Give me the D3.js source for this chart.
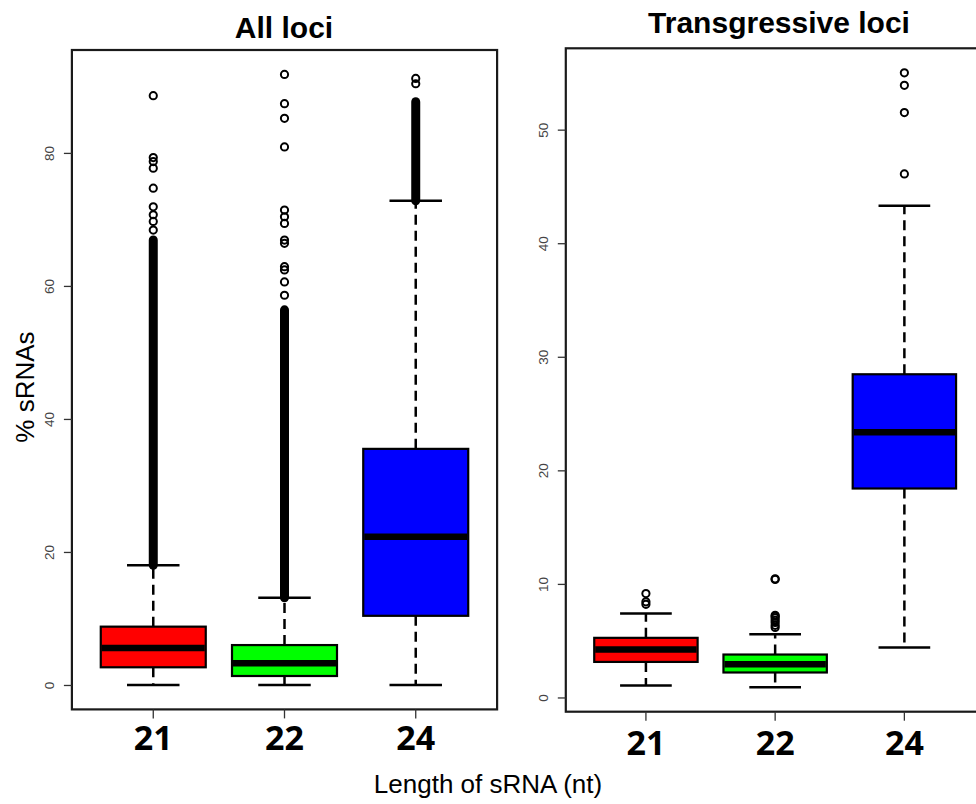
<!DOCTYPE html>
<html>
<head>
<meta charset="utf-8">
<title></title>
<script src="https://cdnjs.cloudflare.com/ajax/libs/d3/7.8.5/d3.min.js"></script>
<style>
  body { margin: 0; background: #fff; }
  text { font-family: "Liberation Sans", Arial, sans-serif; }
</style>
</head>
<body>
<script>
const width = 976;
const height = 804;

const categories = ['21', '22', '24'];
const fills = ['#ff0000', '#00ff00', '#0000ff'];

// All loci
const allLow = [0, 0, 0];
const allQ1 = [2.66, 1.35, 10.4];
const allMedian = [5.56, 3.26, 22.3];
const allQ3 = [8.77, 6.0, 35.5];
const allHigh = [18.0, 13.1, 72.8];
const allDense = [[18.0, 66.9], [13.1, 56.4], [72.8, 87.7]];
const allOutliers = [
  [68.4, 69.7, 70.7, 71.9, 74.7, 77.7, 78.7, 79.3, 88.6],
  [58.6, 60.6, 62.4, 62.9, 66.4, 66.9, 69.4, 70.4, 71.4, 80.9, 85.2, 87.4, 91.8],
  [90.4, 91.2]
];
const allTicks = [0, 20, 40, 60, 80];

// Transgressive loci
const trLow = [1.06, 0.91, 4.4];
const trQ1 = [3.13, 2.2, 18.4];
const trMedian = [4.22, 2.93, 23.35];
const trQ3 = [5.25, 3.78, 28.46];
const trHigh = [7.39, 5.57, 43.3];
const trDense = [null, null, null];
const trOutliers = [
  [8.2, 8.42, 9.15],
  [6.16, 6.35, 6.6, 6.8, 7.0, 7.15, 7.24, 10.39, 10.45],
  [46.1, 51.5, 53.9, 55.0]
];
const trTicks = [0, 10, 20, 30, 40, 50];

const svg = d3.select('body').append('svg')
  .attr('width', width)
  .attr('height', height);

const drawPanel = (p) => {
  const g = svg.append('g');

  let lo = d3.min(p.low), hi = d3.max(p.high);
  p.outliers.forEach(o => { lo = Math.min(lo, d3.min(o)); hi = Math.max(hi, d3.max(o)); });
  p.dense.forEach(d => { if (d) { lo = Math.min(lo, d[0]); hi = Math.max(hi, d[1]); } });
  const ext = (hi - lo) * 0.04;

  const y = d3.scaleLinear()
    .domain([lo - ext, hi + ext])
    .range([p.bottom, p.top]);

  const pad = (p.right - p.left) / 27;
  const x = d3.scaleBand()
    .domain(categories)
    .range([p.left + pad, p.right - pad]);
  const bw = x.bandwidth();
  const cx = (c) => x(c) + bw / 2;
  const boxW = bw * 0.8;

  // whiskers
  categories.forEach((c, i) => {
    [[p.q3[i], p.high[i]], [p.q1[i], p.low[i]]].forEach(([a, b]) => {
      g.append('line')
        .attr('x1', cx(c)).attr('x2', cx(c))
        .attr('y1', y(a)).attr('y2', y(b))
        .attr('stroke', '#000').attr('stroke-width', 2.5)
        .attr('stroke-dasharray', '10,6');
      g.append('line')
        .attr('x1', cx(c) - boxW / 4).attr('x2', cx(c) + boxW / 4)
        .attr('y1', y(b)).attr('y2', y(b))
        .attr('stroke', '#000').attr('stroke-width', 2.5);
    });
  });

  // boxes
  categories.forEach((c, i) => {
    g.append('rect')
      .attr('x', cx(c) - boxW / 2)
      .attr('width', boxW)
      .attr('y', y(p.q3[i]))
      .attr('height', y(p.q1[i]) - y(p.q3[i]))
      .attr('fill', fills[i])
      .attr('stroke', '#000')
      .attr('stroke-width', 2.2);
    g.append('line')
      .attr('x1', cx(c) - boxW / 2 + 1).attr('x2', cx(c) + boxW / 2 - 1)
      .attr('y1', y(p.median[i])).attr('y2', y(p.median[i]))
      .attr('stroke', '#000').attr('stroke-width', 6.5);
  });

  // outliers: dense runs drawn as a solid stack, the rest as open circles
  categories.forEach((c, i) => {
    const d = p.dense[i];
    if (d) {
      g.append('line')
        .attr('x1', cx(c)).attr('x2', cx(c))
        .attr('y1', y(d[0])).attr('y2', y(d[1]))
        .attr('stroke', '#000').attr('stroke-width', 9)
        .attr('stroke-linecap', 'round');
    }
    g.selectAll(null)
      .data(p.outliers[i]).enter()
      .append('circle')
      .attr('cx', cx(c))
      .attr('cy', (v) => y(v))
      .attr('r', 3.6)
      .attr('fill', 'none')
      .attr('stroke', '#000')
      .attr('stroke-width', 2);
  });

  // frame
  g.append('rect')
    .attr('x', p.left).attr('y', p.top)
    .attr('width', p.right - p.left)
    .attr('height', p.bottom - p.top)
    .attr('fill', 'none')
    .attr('stroke', '#1a1a1a')
    .attr('stroke-width', 2.2);

  // y axis
  const yAxis = g.append('g')
    .attr('transform', `translate(${p.left},0)`)
    .call(d3.axisLeft(y).tickValues(p.ticks).tickSize(8).tickPadding(0).tickSizeOuter(0));
  yAxis.select('.domain').remove();
  yAxis.selectAll('.tick line').attr('stroke', '#333').attr('stroke-width', 1.3);
  yAxis.selectAll('.tick text')
    .attr('x', null).attr('dy', null)
    .attr('transform', 'translate(-18,0) rotate(-90)')
    .attr('text-anchor', 'middle')
    .attr('fill', '#444')
    .style('font-family', '"Liberation Sans", Arial, sans-serif')
    .style('font-size', '13.5px');

  // x axis
  const xAxis = g.append('g')
    .attr('transform', `translate(0,${p.bottom})`)
    .call(d3.axisBottom(x).tickSize(9).tickSizeOuter(0).tickPadding(0));
  xAxis.select('.domain').remove();
  xAxis.selectAll('.tick line').attr('stroke', '#333').attr('stroke-width', 1.3);
  xAxis.selectAll('.tick text')
    .attr('y', p.labelY - p.bottom).attr('dy', null)
    .attr('fill', '#000')
    .style('font-family', '"Open Sans", sans-serif')
    .style('font-weight', 700)
    .style('font-size', '34px');

  // title
  svg.append('text')
    .attr('x', p.titleX).attr('y', p.titleY)
    .attr('text-anchor', 'middle')
    .style('font-weight', 700)
    .style('font-size', '30px')
    .text(p.title);
};

drawPanel({
  title: 'All loci', titleX: 284, titleY: 38,
  left: 71.9, right: 497.1, top: 50, bottom: 709.4, labelY: 750,
  low: allLow, q1: allQ1, median: allMedian, q3: allQ3, high: allHigh,
  dense: allDense, outliers: allOutliers, ticks: allTicks
});

drawPanel({
  title: 'Transgressive loci', titleX: 779, titleY: 33,
  left: 565.8, right: 984.5, top: 48.3, bottom: 711.7, labelY: 755,
  low: trLow, q1: trQ1, median: trMedian, q3: trQ3, high: trHigh,
  dense: trDense, outliers: trOutliers, ticks: trTicks
});

svg.append('text')
  .attr('transform', 'translate(34,387) rotate(-90)')
  .attr('text-anchor', 'middle')
  .style('font-size', '26px')
  .text('% sRNAs');

svg.append('text')
  .attr('x', 488).attr('y', 793)
  .attr('text-anchor', 'middle')
  .style('font-size', '26px')
  .text('Length of sRNA (nt)');
</script>
</body>
</html>
